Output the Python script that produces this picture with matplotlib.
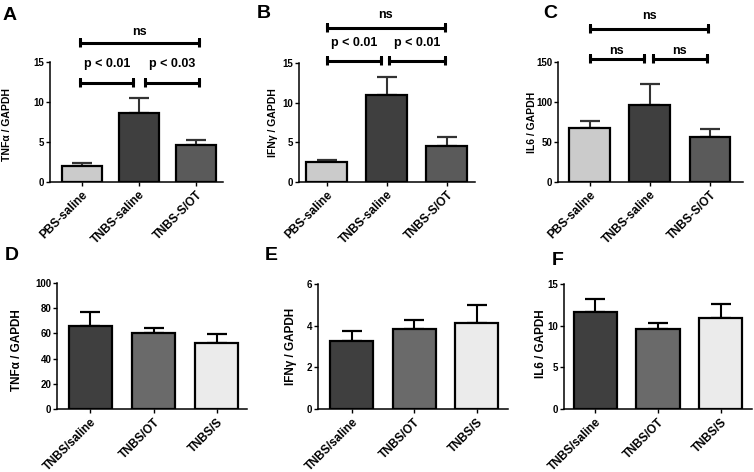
import matplotlib
matplotlib.use("Agg")
from matplotlib import pyplot as plt

plt.rcParams["font.family"] = ["Liberation Sans", "DejaVu Sans"]
plt.rcParams["font.weight"] = "bold"

top_groups = ["PBS-saline", "TNBS-saline", "TNBS-S/OT"]
bottom_groups = ["TNBS/saline", "TNBS/OT", "TNBS/S"]

tnf_top = [2.0, 8.6, 4.6]
tnf_top_err = [0.4, 1.95, 0.6]
ifn_top = [2.55, 10.95, 4.5]
ifn_top_err = [0.2, 2.3, 1.2]
il6_top = [68, 96, 56]
il6_top_err = [8, 26, 10]

tnf_bot = [66.2, 60.6, 52.4]
tnf_bot_err = [10.4, 3.4, 7.4]
ifn_bot = [3.28, 3.83, 4.15]
ifn_bot_err = [0.45, 0.45, 0.85]
il6_bot = [11.65, 9.55, 10.92]
il6_bot_err = [1.5, 0.8, 1.65]

top_colors = ["#cbcbcb", "#3f3f3f", "#5a5a5a"]
bot_colors = ["#3f3f3f", "#6a6a6a", "#ebebeb"]

W, H = 754, 472
fig = plt.figure(figsize=(W / 100, H / 100), dpi=100)


def make_ax(left, right, top, bottom):
    return fig.add_axes([left / W, 1 - bottom / H, (right - left) / W, (bottom - top) / H])


def panel(ax, groups, vals, errs, colors, xlim, ymax, yticks, ylabel, lab_xy,
          ecolor, fs_y, fs_x, width):
    x = range(len(groups))
    ax.bar(x, vals, width=width, color=colors, edgecolor="black", linewidth=1.6, zorder=2)
    ax.errorbar(x, vals, yerr=[[0] * len(vals), errs], fmt="none", ecolor=ecolor,
                elinewidth=1.5, capsize=7.5, capthick=1.6, zorder=1)
    ax.set_xlim(*xlim)
    ax.set_ylim(0, ymax)
    ax.set_yticks(yticks)
    ax.set_xticks(list(x))
    ax.set_xticklabels(groups, rotation=45, ha="right", rotation_mode="anchor",
                       fontsize=fs_x, fontweight="bold")
    ax.tick_params(axis="y", labelsize=7, length=3, width=1, pad=1)
    ax.tick_params(axis="x", length=3, width=1, pad=2)
    for s in ["top", "right"]:
        ax.spines[s].set_visible(False)
    for s in ["left", "bottom"]:
        ax.spines[s].set_linewidth(1.1)
    ax.set_ylabel(ylabel, fontsize=fs_y, fontweight="bold")
    ax.yaxis.set_label_coords(*lab_xy)


def bracket(ax, x0, x1, y, h, text, ty):
    ax.plot([x0, x0, x0, x1, x1, x1], [y - h, y + h, y, y, y + h, y - h],
            color="black", lw=2.2, clip_on=False, solid_capstyle="butt")
    ax.text((x0 + x1) / 2, ty, text, ha="center", va="center", fontsize=9,
            fontweight="bold", clip_on=False)


# top row
axA = make_ax(50, 223, 62, 182)
panel(axA, top_groups, tnf_top, tnf_top_err, top_colors, (-0.56, 2.47), 15,
      [0, 5, 10, 15], "TNFα / GAPDH", (-0.22, 0.48), "#333333", 7.5, 8.5, 0.7)
bracket(axA, -0.03, 0.9, 12.4, 0.5, "p < 0.01", 14.8)
bracket(axA, 1.1, 2.05, 12.4, 0.5, "p < 0.03", 14.8)
bracket(axA, -0.03, 2.05, 17.4, 0.5, "ns", 18.7)

axB = make_ax(299, 475, 63, 182)
panel(axB, top_groups, ifn_top, ifn_top_err, top_colors, (-0.46, 2.47), 15,
      [0, 5, 10, 15], "IFNγ / GAPDH", (-0.12, 0.5), "#333333", 7.5, 8.5, 0.68)
bracket(axB, 0, 0.91, 15.3, 0.5, "p < 0.01", 17.5)
bracket(axB, 1.04, 1.97, 15.3, 0.5, "p < 0.01", 17.5)
bracket(axB, 0, 1.97, 19.4, 0.5, "ns", 21.0)

axC = make_ax(558, 743, 62, 182)
panel(axC, top_groups, il6_top, il6_top_err, top_colors, (-0.53, 2.55), 150,
      [0, 50, 100, 150], "IL6 / GAPDH", (-0.114, 0.5), "#333333", 7.5, 8.5, 0.68)
bracket(axC, 0, 0.9, 153.5, 5, "ns", 164)
bracket(axC, 1.05, 1.95, 153.5, 5, "ns", 164)
bracket(axC, 0, 1.97, 191, 5, "ns", 207)

# bottom row
axD = make_ax(57, 247, 283, 409)
panel(axD, bottom_groups, tnf_bot, tnf_bot_err, bot_colors, (-0.53, 2.48), 100,
      [0, 20, 40, 60, 80, 100], "TNFα / GAPDH", (-0.179, 0.47), "black", 8.5, 8.5, 0.68)

axE = make_ax(318, 508, 284, 409)
panel(axE, bottom_groups, ifn_bot, ifn_bot_err, bot_colors, (-0.54, 2.5), 6,
      [0, 2, 4, 6], "IFNγ / GAPDH", (-0.11, 0.5), "black", 8.5, 8.5, 0.69)

axF = make_ax(564, 752, 284, 409)
panel(axF, bottom_groups, il6_bot, il6_bot_err, bot_colors, (-0.5, 2.5), 15,
      [0, 5, 10, 15], "IL6 / GAPDH", (-0.09, 0.52), "black", 8.5, 8.5, 0.69)

# panel letters
for letter, px, py in [("A", 3, 20), ("B", 257, 18), ("C", 543, 18),
                       ("D", 5, 260), ("E", 265, 260), ("F", 552, 265)]:
    fig.text(px / W, 1 - py / H, letter, fontsize=14, fontweight="bold",
             ha="left", va="baseline")

fig.savefig("out.png", dpi=100)
